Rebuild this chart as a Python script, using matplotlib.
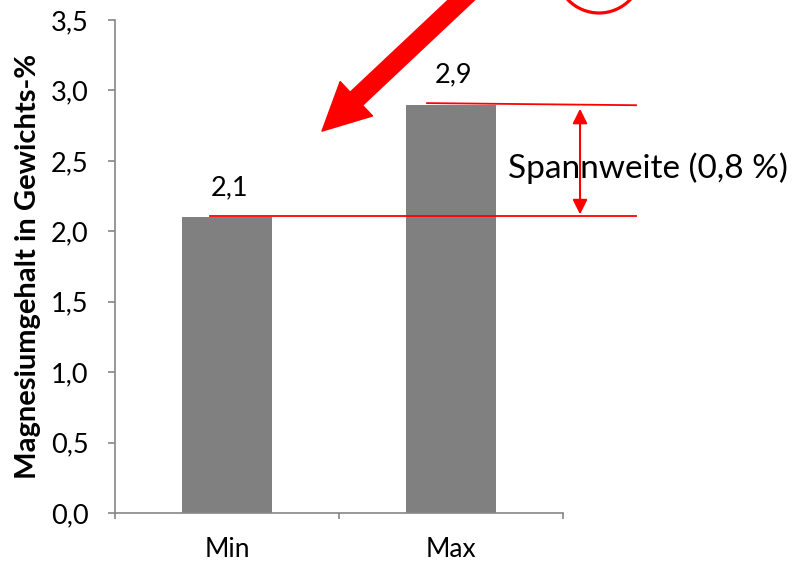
import matplotlib
matplotlib.use("Agg")
import matplotlib.pyplot as plt
from matplotlib.ticker import FuncFormatter, FixedLocator
from matplotlib.patches import Ellipse

# Data
categories = ["Min", "Max"]
values = [2.1, 2.9]
value_labels = ["2,1", "2,9"]
span_text = "Spannweite (0,8 %)"
y_label = "Magnesiumgehalt in Gewichts-%"

plt.rcParams['font.family'] = ['Lato', 'DejaVu Sans']

fig = plt.figure(figsize=(7.99, 5.63), dpi=100)
ax = fig.add_axes([115/799, 50/563, 448/799, 493/563])

x = list(range(len(categories)))
ax.bar(x, values, width=0.4, color="#808080", zorder=2)

ax.set_xlim(-0.5, 1.5)
ax.set_ylim(0, 3.5)
ax.set_yticks([i * 0.5 for i in range(8)])
ax.yaxis.set_major_formatter(FuncFormatter(lambda v, p: f"{v:.1f}".replace(".", ",")))
ax.set_xticks(x)
ax.set_xticklabels(categories)
ax.xaxis.set_minor_locator(FixedLocator([-0.5, 0.5, 1.5]))

gray = "#868686"
for s in ["top", "right"]:
    ax.spines[s].set_visible(False)
for s in ["left", "bottom"]:
    ax.spines[s].set_color(gray)
    ax.spines[s].set_linewidth(1.2)
ax.tick_params(axis="y", direction="out", length=5, color=gray, width=1.2,
               labelsize=19.5, pad=14)
ax.tick_params(axis="x", which="major", length=0, labelsize=19, pad=17)
ax.tick_params(axis="x", which="minor", direction="out", length=4, color=gray, width=1.2)

ax.set_ylabel(y_label, fontsize=21, fontweight="bold")
ax.yaxis.set_label_coords(-0.165, 0.5)

# value labels
for xi, v, lab in zip(x, values, value_labels):
    ax.text(xi + 0.01, v + 0.21, lab, ha="center", va="center", fontsize=19.5)

# red marker lines
ax.plot([0.893, 1.826], [2.91, 2.895], color="red", lw=1.3, clip_on=False, zorder=3)
ax.plot([-0.076, 1.826], [2.105, 2.105], color="red", lw=1.3, clip_on=False, zorder=3)

# double arrow for span
ax.annotate("", xy=(1.576, 2.12), xytext=(1.576, 2.87),
            arrowprops=dict(arrowstyle="<|-|>", color="red", lw=1.5,
                            mutation_scale=22, shrinkA=0, shrinkB=0),
            annotation_clip=False)
ax.text(1.254, 2.45, span_text, ha="left", va="center", fontsize=24,
        clip_on=False, zorder=4)

# big red arrow from top
ax.annotate("", xy=(0.424, 2.711), xytext=(1.085, 3.7),
            arrowprops=dict(arrowstyle="simple,head_length=3.4,head_width=3.4,tail_width=1.3",
                            color="red", mutation_scale=10, shrinkA=0, shrinkB=0),
            annotation_clip=False)

# partial red circle at the top
circ = Ellipse((599/799, (563 + 30)/563), 86/799, 86/563, transform=fig.transFigure,
               fill=False, edgecolor="red", lw=2.3)
fig.patches.append(circ)

fig.savefig("out.png", dpi=100)
